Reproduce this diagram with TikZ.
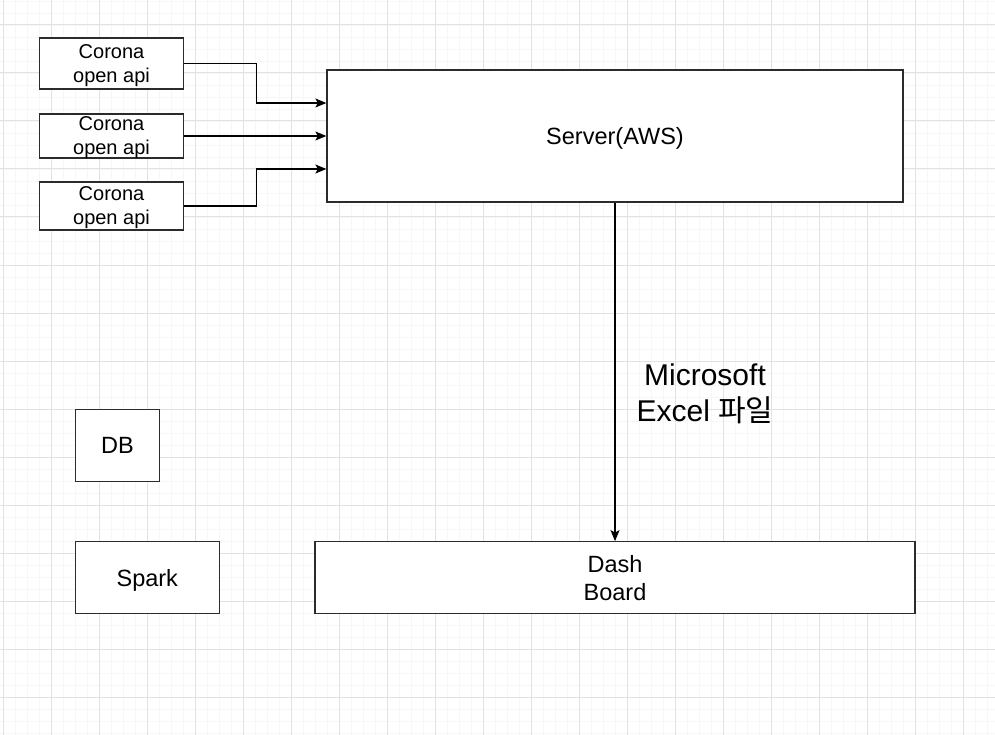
\documentclass[tikz,border=0pt]{standalone}
\usepackage{fontspec}
\setmainfont{Liberation Sans}
\newfontfamily\krfont{Noto Sans CJK KR}
\usetikzlibrary{arrows.meta, positioning}
\definecolor{gridminor}{HTML}{F7F7F7}
\definecolor{gridmajor}{HTML}{E2E2E2}
\definecolor{boxline}{HTML}{2B2B2B}
\tikzstyle{apibox} = [rectangle, draw=boxline, line width=1.3pt, fill=white, align=center, inner sep=0pt, text depth=0pt, minimum width=144pt, font=\fontsize{20}{24}\selectfont]
\tikzstyle{block} = [rectangle, draw=boxline, line width=1.3pt, fill=white, align=center, inner sep=0pt, text depth=0pt, font=\fontsize{23.5}{28}\selectfont]
\tikzstyle{arrow} = [line width=1.2pt, -{Stealth[length=11pt, width=9pt, inset=2.5pt]}]

\begin{document}
\begin{tikzpicture}[x=1pt, y=-1pt]

        % Canvas with draw.io style grid
        \fill[white] (0,0) rectangle (995,735);
        \useasboundingbox (0,0) rectangle (995,735);
        \foreach \g in {3.3,15.3,...,995} \draw[gridminor, line width=0.7pt] (\g,0) -- (\g,735);
        \foreach \g in {1,13,...,735} \draw[gridminor, line width=0.7pt] (0,\g) -- (995,\g);
        \foreach \g in {3.3,51.3,...,995} \draw[gridmajor, line width=1pt] (\g,0) -- (\g,735);
        \foreach \g in {25,73,...,735} \draw[gridmajor, line width=1pt] (0,\g) -- (995,\g);

        % Data sources
        \node (api1) [apibox, minimum height=51pt] at (111.5,63.5) {Corona\\open api};
        \node (api2) [apibox, minimum height=44pt] at (111.5,136) {Corona\\open api};
        \node (api3) [apibox, minimum height=48pt] at (111.5,206) {Corona\\open api};

        % Server and dashboard
        \node (server) [block, minimum width=576pt, minimum height=132pt] at (615,136) {Server(AWS)};
        \node (dash) [block, minimum width=600pt, minimum height=71.5pt] at (615,577.5) {Dash\\Board};

        % Standalone boxes
        \node (db) [block, minimum width=84.4pt, minimum height=72.4pt] at (117.5,445.5) {DB};
        \node (spark) [block, minimum width=144pt, minimum height=72pt] at (147.3,577.7) {Spark};

        % Feeds into the server
        \draw [arrow] (api1.east) -- ++(72,0) |- ([yshift=33pt]server.west);
        \draw [arrow] (api2.east) -- (server.west);
        \draw [arrow] (api3.east) -- ++(72,0) |- ([yshift=-33pt]server.west);

        % Server to dashboard
        \draw [arrow] (server) -- node[pos=0.56, xshift=90pt, align=center, text depth=0pt, font=\fontsize{30}{36}\selectfont] (excel) {Microsoft\\Excel {\krfont 파일}} (dash);

    \end{tikzpicture}
\end{document}
